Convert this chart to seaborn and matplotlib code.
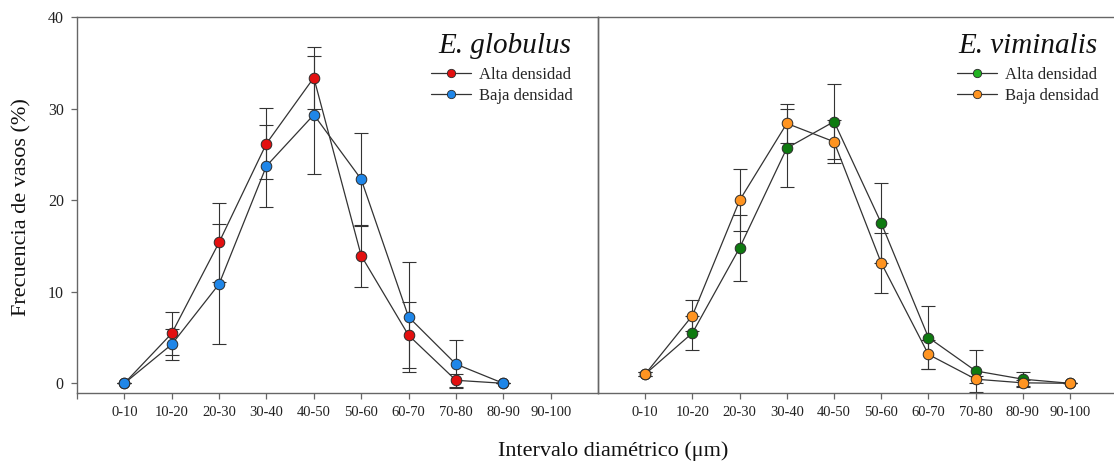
import matplotlib
matplotlib.use("Agg")
import matplotlib.pyplot as plt
from matplotlib.lines import Line2D
import numpy as np
import pandas as pd
import seaborn as sns

# ---- data ----
categories = ['0-10', '10-20', '20-30', '30-40', '40-50',
              '50-60', '60-70', '70-80', '80-90', '90-100']

glob_alta = [0, 5.45, 15.4, 26.2, 33.4, 13.95, 5.25, 0.33, 0]
glob_alta_err = [0, 2.35, 4.3, 3.9, 3.4, 3.4, 3.6, 0.7, 0]
glob_baja = [0, 4.25, 10.85, 23.75, 29.35, 22.3, 7.25, 2.1, 0]
glob_baja_err = [0, 1.7, 6.55, 4.5, 6.45, 5.1, 6.0, 2.6, 0]

vim_alta = [1.0, 5.5, 14.8, 25.7, 28.6, 17.5, 5.0, 1.35, 0.45, 0]
vim_alta_err = [0.2, 1.85, 3.6, 4.25, 4.1, 4.4, 3.45, 2.25, 0.8, 0]
vim_baja = [1.0, 7.4, 20.0, 28.4, 26.4, 13.15, 3.15, 0.45, 0.05, 0]
vim_baja_err = [0.2, 1.7, 3.4, 2.15, 2.35, 3.3, 1.6, 0.4, 0.3, 0]

series_labels = ['Alta densidad', 'Baja densidad']
titles = ['E. globulus', 'E. viminalis']
ylabel = 'Frecuencia de vasos (%)'
xlabel = 'Intervalo diamétrico (μm)'
yticks = [0, 10, 20, 30, 40]

# ---- style ----
sns.set_theme(style='ticks')
plt.rcParams['font.family'] = ['Liberation Serif', 'DejaVu Serif']

W, H = 1114, 463
fig = plt.figure(figsize=(W / 100, H / 100), dpi=100)

def px_axes(x0, x1, ytop, ybot):
    return fig.add_axes([x0 / W, (H - ybot) / H, (x1 - x0) / W, (ybot - ytop) / H])

axL = px_axes(77, 598, 17, 393)
axR = px_axes(598, 1114, 17, 393)
axR.patch.set_alpha(0)

spine_c = '#666666'
line_c = '#333333'
edge_c = '#2a2a2a'

panels = [
    (axL, titles[0], [glob_alta, glob_baja], [glob_alta_err, glob_baja_err],
     ['#E31010', '#1F86E8'], ['#E31010', '#1F86E8'], (-1, 10), 0.948, 0.679),
    (axR, titles[1], [vim_alta, vim_baja], [vim_alta_err, vim_baja_err],
     ['#0E7A10', '#FF9421'], ['#22B322', '#FF9421'], (-1, 9.93), 0.969, 0.696),
]

for ax, title, vals, errs, cols, legcols, xl, tx, lx in panels:
    for k, (v, e, c) in enumerate(zip(vals, errs, cols)):
        df = pd.DataFrame({'x': np.arange(len(v)), 'y': v, 'e': e})
        ax.errorbar(df['x'], df['y'], yerr=df['e'], fmt='none', ecolor=line_c,
                    elinewidth=0.8, capsize=5.2, capthick=0.8, zorder=1 + k * 0.1)
        sns.lineplot(data=df, x='x', y='y', ax=ax, color=line_c, linewidth=0.9,
                     zorder=2 + k * 0.1, legend=False)
        sns.scatterplot(data=df, x='x', y='y', ax=ax, color=c, s=58,
                        edgecolor=edge_c, linewidth=0.7, zorder=3 + k * 0.1,
                        legend=False)
    ax.set_xlim(*xl)
    ax.set_ylim(-1.06, 40.03)
    ax.set_xlabel('')
    ax.set_ylabel('')
    for s in ax.spines.values():
        s.set_color(spine_c)
        s.set_linewidth(1.0)
    ax.tick_params(axis='both', colors=spine_c, labelcolor='#222222',
                   length=4.5, width=0.9, direction='out', pad=5)
    ax.text(tx, 0.904, title, transform=ax.transAxes, ha='right', va='baseline',
            fontsize=21, style='italic', color='#111111')
    handles = [Line2D([0], [0], color=line_c, lw=0.9, marker='o', markersize=6,
                      markerfacecolor=lc, markeredgecolor=edge_c, markeredgewidth=0.6)
               for lc in legcols]
    ax.legend(handles, series_labels, loc='upper left', bbox_to_anchor=(lx, 0.867),
              frameon=False, fontsize=12, handlelength=2.4, handletextpad=0.5,
              labelspacing=0.3, borderpad=0, borderaxespad=0)

# left panel axes
axL.set_yticks(yticks)
axL.set_yticklabels([str(t) for t in yticks], fontsize=11.5)
axL.set_xticks(range(-1, len(categories)))
axL.set_xticklabels([''] + categories, fontsize=10.5)

# right panel axes
axR.set_xticks(range(len(categories)))
axR.set_xticklabels(categories, fontsize=10.5)
axR.set_yticks([])
axR.spines['right'].set_visible(False)

fig.text(22 / W, 1 - 207 / H, ylabel, rotation=90, ha='center', va='center',
         fontsize=16, color='#111111')
fig.text(613 / W, 1 - 451 / H, xlabel, ha='center', va='center',
         fontsize=16, color='#111111')

fig.savefig('out.png', dpi=100)
